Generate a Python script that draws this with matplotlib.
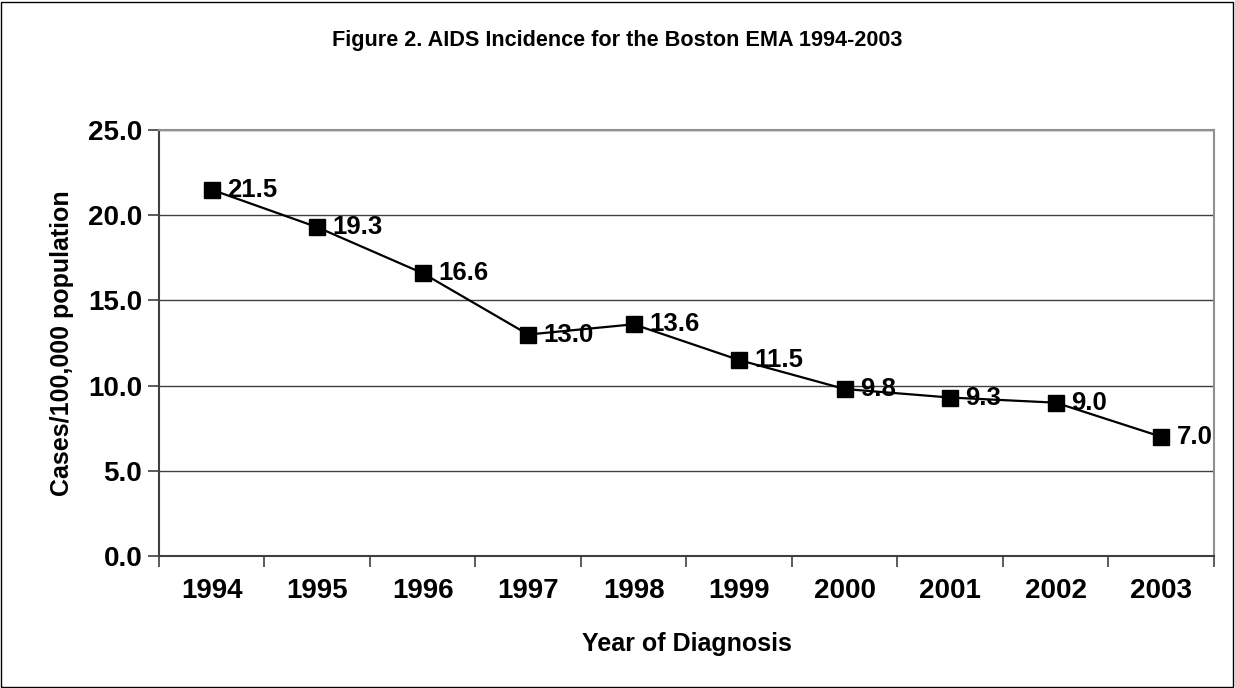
import matplotlib.pyplot as plt
from matplotlib.patches import Rectangle

# AIDS incidence per 100,000, Boston EMA
years = ['1994', '1995', '1996', '1997', '1998', '1999', '2000', '2001', '2002', '2003']
rates = [21.5, 19.3, 16.6, 13.0, 13.6, 11.5, 9.8, 9.3, 9.0, 7.0]

plt.rcParams['font.family'] = ['Liberation Sans', 'DejaVu Sans']
plt.rcParams['font.weight'] = 'bold'

fig = plt.figure(figsize=(12.35, 6.88), dpi=100)
ax = fig.add_axes([0.1287, 0.1919, 0.8543, 0.619])

x = list(range(len(years)))
ax.plot(x, rates, color='black', lw=1.6, marker='s', markersize=11,
        markerfacecolor='black', markeredgecolor='black', zorder=3)
for xi, v in zip(x, rates):
    ax.annotate(f'{v:.1f}', (xi, v), xytext=(11, 0), textcoords='offset points',
                ha='left', va='center', fontsize=18.5, fontweight='bold', zorder=4)

ax.set_xlim(-0.5, len(years) - 0.5)
ax.set_ylim(0, 25)
ax.set_yticks([0, 5, 10, 15, 20, 25])
ax.set_yticklabels([f'{t:.1f}' for t in [0, 5, 10, 15, 20, 25]], fontsize=20, fontweight='bold')
ax.set_xticks(x)
ax.set_xticklabels(years, fontsize=20, fontweight='bold')
ax.tick_params(axis='x', which='major', length=0, pad=16)
ax.set_xticks([i - 0.5 for i in range(len(years) + 1)], minor=True)
ax.tick_params(axis='x', which='minor', length=8, width=1.2, color='#404040', direction='out')
ax.tick_params(axis='y', length=8, width=1.2, color='#404040', direction='out', pad=4)

ax.yaxis.grid(True, color='#404040', lw=1.0)
ax.set_axisbelow(True)
for side in ['left', 'bottom']:
    ax.spines[side].set_color('#404040')
    ax.spines[side].set_linewidth(1.5)
for side in ['top', 'right']:
    ax.spines[side].set_color('#909090')
    ax.spines[side].set_linewidth(1.5)

ax.set_ylabel('Cases/100,000 population', fontsize=18, fontweight='bold', labelpad=10)
ax.set_xlabel('Year of Diagnosis', fontsize=18, fontweight='bold', labelpad=20)
fig.text(0.5, 0.941, 'Figure 2. AIDS Incidence for the Boston EMA 1994-2003',
         ha='center', va='center', fontsize=15.6, fontweight='bold')

fig.patches.append(Rectangle((0.001, 0.002), 0.997, 0.995, transform=fig.transFigure,
                             fill=False, edgecolor='black', lw=1.0))

fig.savefig('out.png', dpi=100)
